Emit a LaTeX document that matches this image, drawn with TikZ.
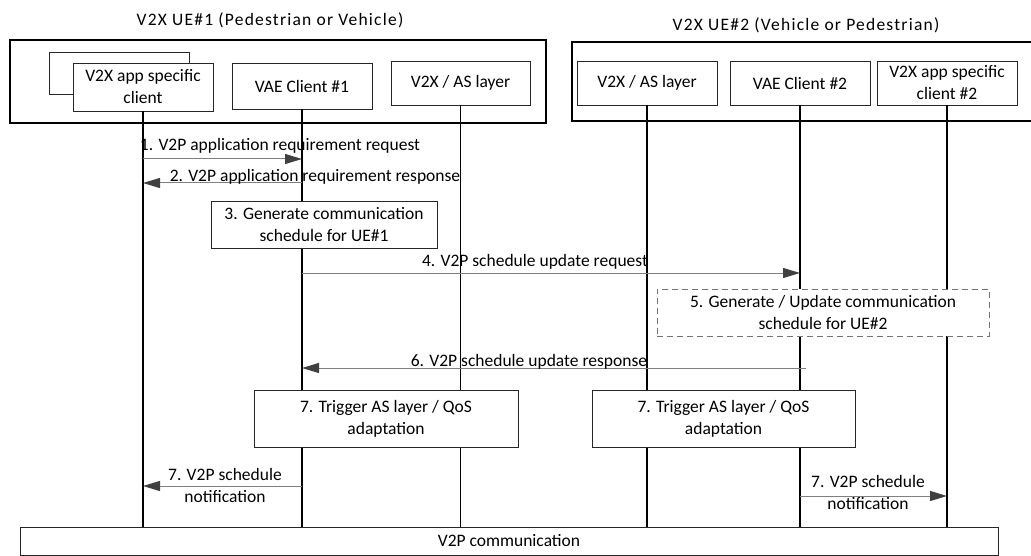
\documentclass[tikz,border=0pt]{standalone}
\usepackage{fontspec}
\setmainfont{Carlito}
\usetikzlibrary{arrows.meta}

\begin{document}
\begin{tikzpicture}[x=1pt,y=-1pt,
    every node/.style={font=\fontsize{17.5}{22}\selectfont, align=center, inner sep=0pt},
    title/.style={font=\fontsize{17.5}{22}\selectfont\addfontfeature{LetterSpace=7}},
    uebox/.style={draw=black, line width=1.4pt},
    entity/.style={draw=black!85, fill=white, line width=0.9pt, minimum width=140pt},
    stepbox/.style={draw=black!85, fill=white, line width=0.9pt},
    lifeline/.style={draw=black, line width=1.3pt},
    msg/.style={draw=black!50, line width=1pt,
      -{Triangle[length=17pt,width=10pt,color=black!75,fill=black!75]}}]
  \useasboundingbox (0,0) rectangle (1031,556);

  \node[title, anchor=base] (t1) at (270,26) {V2X UE\#1 (Pedestrian or Vehicle)};
  \node[title, anchor=base] (t2) at (806,31) {V2X UE\#2 (Vehicle or Pedestrian)};
  \node[uebox, minimum width=536pt, minimum height=83pt] (ue1) at (278,81.5) {};
  \node[uebox, minimum width=470pt, minimum height=79pt] (ue2) at (807,81.5) {};

  \node[entity, minimum height=42pt] (app1b) at (119,73) {};
  \node[entity, minimum height=48pt] (app1) at (143,87) {V2X app specific\\client};
  \node[entity, minimum height=46pt] (vae1) at (302,86) {VAE Client \#1};
  \node[entity, minimum width=139pt, minimum height=44pt] (as1) at (460.5,83) {V2X / AS layer};
  \node[entity, minimum height=44pt] (as2) at (647,83) {V2X / AS layer};
  \node[entity, minimum height=44pt] (vae2) at (800,83) {VAE Client \#2};
  \node[entity, minimum height=44pt] (app2) at (947,83) {V2X app specific\\client \#2};

  \node[stepbox, minimum width=978pt, minimum height=28pt] (comm) at (509,541) {V2P communication};

  \foreach \n in {app1,vae1,as1,as2,vae2,app2}
    \draw[lifeline] (\n.south) -- (\n |- comm.north);

  \node[stepbox, minimum width=226pt, minimum height=47pt] (s3) at (324,224.5)
    {3. Generate communication\\schedule for UE\#1};
  \node[stepbox, draw=black!55, dash pattern=on 6pt off 4pt,
        minimum width=332pt, minimum height=47pt] (s5) at (823,312.5)
    {5. Generate / Update communication\\schedule for UE\#2};
  \node[stepbox, minimum width=264pt, minimum height=57pt] (s7a) at (386,418.5)
    {7. Trigger AS layer / QoS\\adaptation};
  \node[stepbox, minimum width=263pt, minimum height=57pt] (s7b) at (723.5,418.5)
    {7. Trigger AS layer / QoS\\adaptation};

  \coordinate (m1) at (0,159);
  \coordinate (m2) at (0,183);
  \coordinate (m4) at (0,273);
  \coordinate (m6) at (0,368);
  \coordinate (m7a) at (0,486);
  \coordinate (m7b) at (0,496);

  \draw[msg] (app1 |- m1) -- (vae1 |- m1);
  \node[anchor=base] (l1) at (280,151) {1. V2P application requirement request};
  \draw[msg] (vae1 |- m2) -- (app1 |- m2);
  \node[anchor=base] (l2) at (315,182) {2. V2P application requirement response};
  \draw[msg] (vae1 |- m4) -- (vae2 |- m4);
  \node[anchor=base] (l4) at (535,266) {4. V2P schedule update request};
  \draw[msg] ([xshift=6pt]vae2 |- m6) -- (vae1 |- m6);
  \node[anchor=base] (l6) at (529,366) {6. V2P schedule update response};
  \draw[msg] (vae1 |- m7a) -- (app1 |- m7a);
  \node (l7a) at (225,485) {7. V2P schedule\\notification};
  \draw[msg] (vae2 |- m7b) -- (app2 |- m7b);
  \node (l7b) at (868,492) {7. V2P schedule\\notification};
\end{tikzpicture}
\end{document}
